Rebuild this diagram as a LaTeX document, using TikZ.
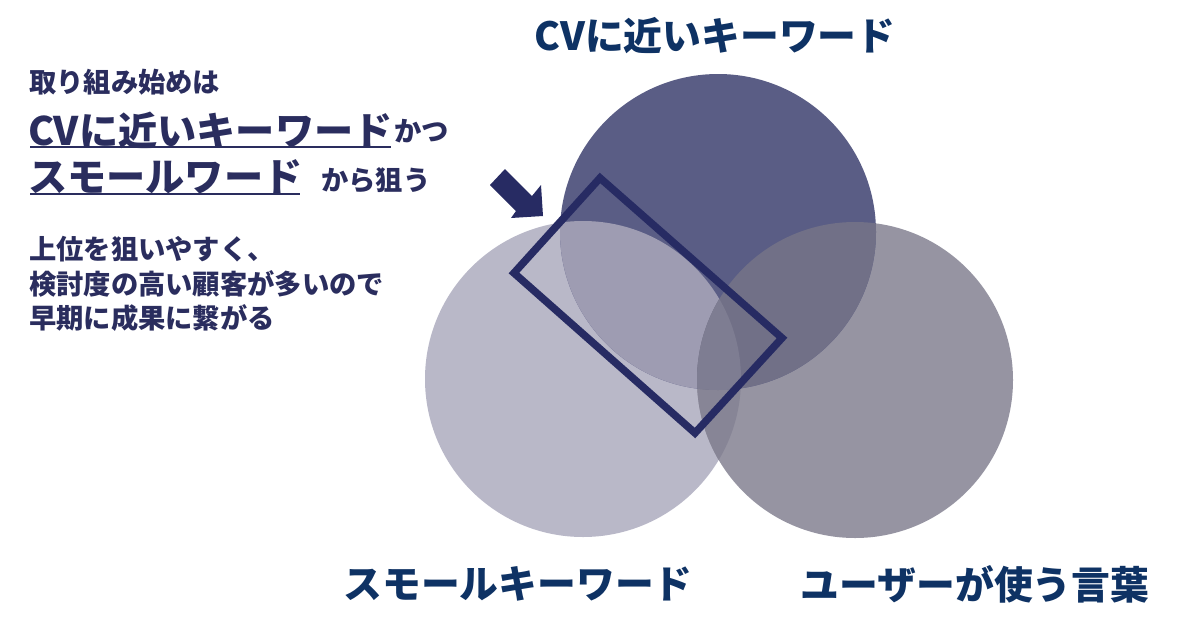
\documentclass[tikz,border=0pt]{standalone}
\usepackage{fontspec}
\newfontfamily\jp{Noto Sans CJK JP}
\definecolor{Lc}{HTML}{B9B8C8}
\definecolor{Rc}{HTML}{9694A2}
\definecolor{Tc}{HTML}{5A5D85}
\definecolor{TLc}{HTML}{9E9CB2}
\definecolor{TRc}{HTML}{717087}
\definecolor{LRc}{HTML}{878596}
\definecolor{TLRc}{HTML}{7E7D92}
\definecolor{navy}{HTML}{272B63}
\definecolor{ink}{HTML}{2A2D5E}
\definecolor{title}{HTML}{0E3264}
\tikzset{
  bigtitle/.style={font=\jp\bfseries\fontsize{38.8}{44}\selectfont, text=title, inner sep=0pt},
  bigtext/.style={font=\jp\bfseries\fontsize{39.2}{44}\selectfont, text=ink, inner sep=0pt, anchor=west},
  smalltext/.style={font=\jp\bfseries\fontsize{27.3}{32}\selectfont, text=ink, inner sep=0pt, anchor=west},
  uline/.style={draw=ink, line width=2pt},
}
\begin{document}
\begin{tikzpicture}[x=1pt,y=-1pt]
\useasboundingbox[fill=white] (0,0) rectangle (1200,630);
\coordinate (cT) at (718,232);
\coordinate (cL) at (583,379);
\coordinate (cR) at (855,380);
\def\rr{158}
% circles
\fill[Lc] (cL) circle[radius=\rr];
\fill[Rc] (cR) circle[radius=\rr];
\fill[Tc] (cT) circle[radius=\rr];
\begin{scope}
  \clip (cL) circle[radius=\rr];
  \fill[TLc] (cT) circle[radius=\rr];
  \fill[LRc] (cR) circle[radius=\rr];
\end{scope}
\begin{scope}
  \clip (cT) circle[radius=\rr];
  \fill[TRc] (cR) circle[radius=\rr];
\end{scope}
\begin{scope}
  \clip (cL) circle[radius=\rr];
  \clip (cT) circle[radius=\rr];
  \fill[TLRc] (cR) circle[radius=\rr];
\end{scope}
% rotated rectangle
\draw[navy, line width=7.5pt, line join=miter] (600,178) -- (782,338) -- (695,433) -- (514,273) -- cycle;
% arrow
\fill[navy] (505,169) -- (532,196) -- (541,185) -- (543,216) -- (511,218) -- (516,211) -- (490,185) -- cycle;
% labels
\node[bigtitle] (lt) at (715,36) {CVに近いキーワード};
\node[bigtitle] (ll) at (518,584) {スモールキーワード};
\node[bigtitle] (lr) at (975,584) {ユーザーが使う言葉};
% left text
\node[smalltext] (t1) at (29,82) {取り組み始めは};
\node[bigtext] (t2) at (28,130) {CVに近いキーワード};
\node[smalltext] (t2b) at (394,131) {かつ};
\node[bigtext] (t3) at (28,177) {スモールワード};
\node[smalltext] (t3b) at (321,180) {から狙う};
\draw[uline] (30,147) -- (391,147);
\draw[uline] (30,194) -- (300,194);
\node[smalltext] (t4) at (29,249) {上位を狙いやすく、};
\node[smalltext] (t5) at (29,284) {検討度の高い顧客が多いので};
\node[smalltext] (t6) at (29,318) {早期に成果に繋がる};
\end{tikzpicture}
\end{document}
